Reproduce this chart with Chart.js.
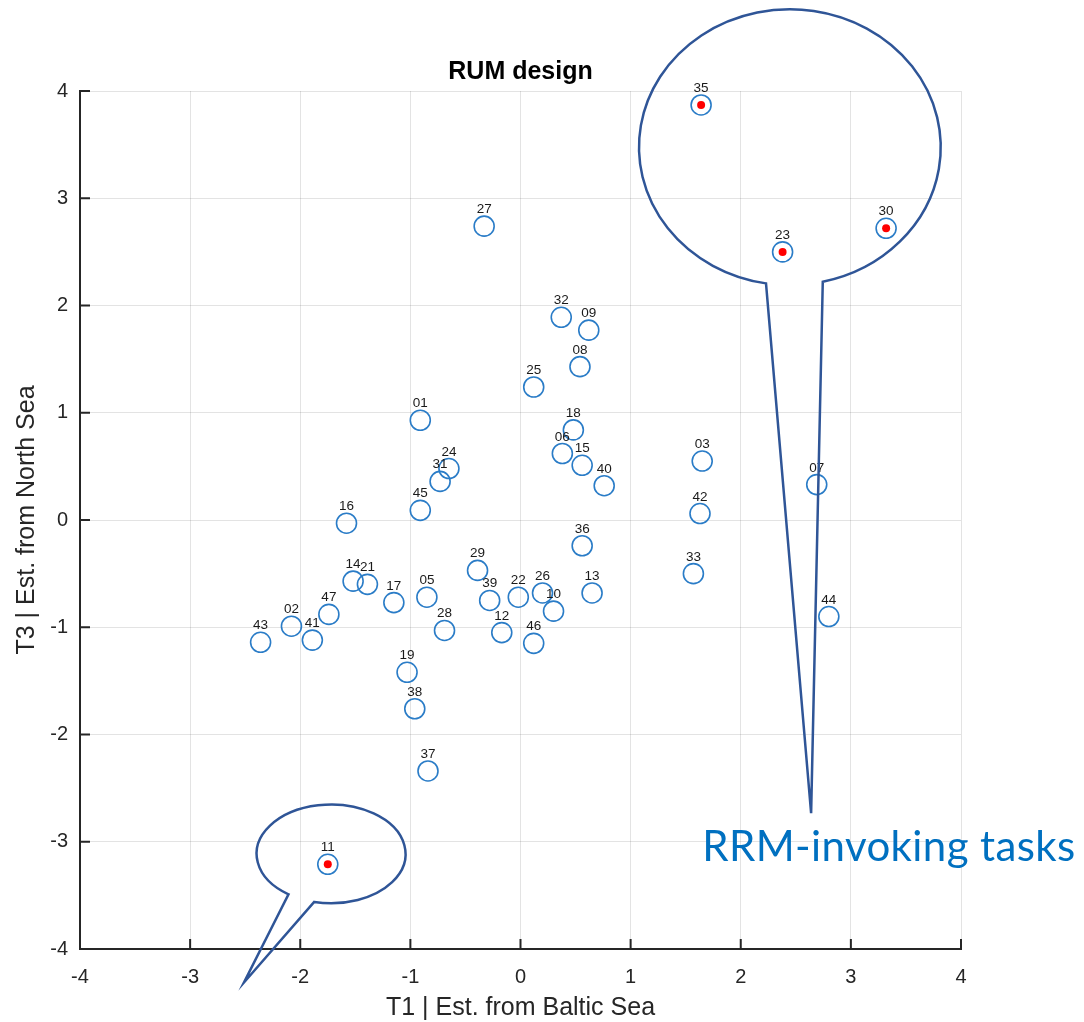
<!DOCTYPE html>
<html>
<head>
<meta charset="utf-8">
<script src="https://cdn.jsdelivr.net/npm/chart.js@4.4.1/dist/chart.umd.min.js"></script>
<style>
  html, body { margin: 0; padding: 0; background: #ffffff; }
  #wrap { width: 1084px; height: 1022px; }
</style>
</head>
<body>
<div id="wrap"><canvas id="c" width="1084" height="1022"></canvas></div>
<script>
// ---- data ----
const taskIds = ['01','02','03','05','06','07','08','09','10','11','12','13','14','15','16','17','18','19','21','22','23','24','25','26','27','28','29','30','31','32','33','35','36','37','38','39','40','41','42','43','44','45','46','47'];
const t1Values = [-0.91,-2.08,1.65,-0.85,0.38,2.69,0.54,0.62,0.30,-1.75,-0.17,0.65,-1.52,0.56,-1.58,-1.15,0.48,-1.03,-1.39,-0.02,2.38,-0.65,0.12,0.20,-0.33,-0.69,-0.39,3.32,-0.73,0.37,1.57,1.64,0.56,-0.84,-0.96,-0.28,0.76,-1.89,1.63,-2.36,2.80,-0.91,0.12,-1.74];
const t3Values = [0.93,-0.99,0.55,-0.72,0.62,0.33,1.43,1.77,-0.85,-3.21,-1.05,-0.68,-0.57,0.51,-0.03,-0.77,0.84,-1.42,-0.60,-0.72,2.50,0.48,1.24,-0.68,2.74,-1.03,-0.47,2.72,0.36,1.89,-0.50,3.87,-0.24,-2.34,-1.76,-0.75,0.32,-1.12,0.06,-1.14,-0.90,0.09,-1.15,-0.88];
const rrmTasks = ['11','23','30','35'];
const axisTicks = [-4,-3,-2,-1,0,1,2,3,4];
const chartTitle = 'RUM design';
const xTitle = 'T1 | Est. from Baltic Sea';
const yTitle = 'T3 | Est. from North Sea';
const noteText = 'RRM-invoking tasks';

// callout annotations (in data units)
const callouts = [
  { cx: 2.446, cy: 3.476, rx: 1.370, ry: 1.286, aLeft: 99.1, aRight: 77.4, tipX: 2.639, tipY: -2.733 },
  { cx: -1.720, cy: -3.113, rx: 0.676, ry: 0.460, aLeft: 124.9, aRight: 103.1, tipX: -2.511, tipY: -4.312 }
];
const notePos = { x: 1.650, y: -3.183 };

const allPoints = taskIds.map((id, i) => ({ x: t1Values[i], y: t3Values[i], id }));
const rrmPoints = allPoints.filter(p => rrmTasks.includes(p.id));

const INK = '#262626';

const overlayPlugin = {
  id: 'overlay',
  afterDatasetsDraw(chart) {
    const ctx = chart.ctx;
    const xs = chart.scales.x, ys = chart.scales.y;
    const area = chart.chartArea;
    ctx.save();
    // point labels
    const meta = chart.getDatasetMeta(0);
    ctx.font = '13.5px "Liberation Sans", Arial, sans-serif';
    ctx.fillStyle = '#1a1a1a';
    ctx.textAlign = 'center';
    ctx.textBaseline = 'alphabetic';
    meta.data.forEach((el, i) => {
      ctx.fillText(allPoints[i].id, el.x, el.y - 13);
    });
    // inward tick marks
    ctx.strokeStyle = INK;
    ctx.lineWidth = 2;
    ctx.beginPath();
    axisTicks.forEach(v => {
      const px = xs.getPixelForValue(v);
      ctx.moveTo(px, area.bottom);
      ctx.lineTo(px, area.bottom - 10);
      const py = ys.getPixelForValue(v);
      ctx.moveTo(area.left, py);
      ctx.lineTo(area.left + 10, py);
    });
    ctx.stroke();
    ctx.restore();
  },
  afterDraw(chart) {
    const ctx = chart.ctx;
    const xs = chart.scales.x, ys = chart.scales.y;
    ctx.save();
    ctx.strokeStyle = '#2F5597';
    ctx.lineWidth = 2.5;
    ctx.lineJoin = 'miter';
    callouts.forEach(c => {
      const cx = xs.getPixelForValue(c.cx), cy = ys.getPixelForValue(c.cy);
      const rx = Math.abs(xs.getPixelForValue(c.cx + c.rx) - cx);
      const ry = Math.abs(ys.getPixelForValue(c.cy + c.ry) - cy);
      const a0 = c.aLeft * Math.PI / 180, a1 = c.aRight * Math.PI / 180;
      const tx = xs.getPixelForValue(c.tipX), ty = ys.getPixelForValue(c.tipY);
      ctx.beginPath();
      ctx.ellipse(cx, cy, rx, ry, 0, a0, a1, false);
      ctx.lineTo(tx, ty);
      ctx.closePath();
      ctx.stroke();
    });
    ctx.font = '42px Lato, "Open Sans", sans-serif';
    ctx.fillStyle = '#0070C0';
    ctx.textAlign = 'left';
    ctx.textBaseline = 'alphabetic';
    const nx = xs.getPixelForValue(notePos.x), ny = ys.getPixelForValue(notePos.y);
    const w = ctx.measureText(noteText).width;
    const target = 373;
    if (w < target && 'letterSpacing' in ctx) {
      ctx.letterSpacing = ((target - w) / (noteText.length - 1)).toFixed(2) + 'px';
    }
    ctx.fillText(noteText, nx, ny);
    ctx.restore();
  }
};

new Chart(document.getElementById('c'), {
  type: 'scatter',
  data: {
    datasets: [
      {
        data: allPoints,
        pointStyle: 'circle',
        pointRadius: 10,
        pointHoverRadius: 10,
        pointBorderWidth: 1.6,
        pointBorderColor: '#2a7cc7',
        pointBackgroundColor: 'rgba(0,0,0,0)',
        showLine: false
      },
      {
        data: rrmPoints,
        pointStyle: 'circle',
        pointRadius: 4,
        pointHoverRadius: 4,
        pointBorderWidth: 0,
        pointBackgroundColor: '#ff0000',
        pointBorderColor: '#ff0000',
        showLine: false
      }
    ]
  },
  options: {
    responsive: false,
    animation: false,
    devicePixelRatio: 1,
    events: [],
    layout: { padding: { left: 0, right: 123, top: 0, bottom: 0 } },
    plugins: {
      legend: { display: false },
      tooltip: { enabled: false },
      title: {
        display: true,
        text: chartTitle,
        fullSize: false,
        color: '#000000',
        font: { family: '"Liberation Sans", Arial, sans-serif', size: 25, weight: 'bold', lineHeight: 1.2 },
        padding: { top: 57.5, bottom: 3.5 }
      }
    },
    scales: {
      x: {
        type: 'linear',
        min: -4, max: 4,
        afterBuildTicks: s => { s.ticks = axisTicks.map(v => ({ value: v })); },
        afterFit: s => { s.height = 73; },
        grid: { color: 'rgba(0,0,0,0.11)', lineWidth: 1, drawTicks: false },
        border: { display: true, color: INK, width: 2 },
        ticks: { color: INK, padding: 16, font: { family: '"Liberation Sans", Arial, sans-serif', size: 20 } },
        title: {
          display: true, text: xTitle, color: INK,
          font: { family: '"Liberation Sans", Arial, sans-serif', size: 25, lineHeight: 1.1 },
          padding: { top: 0, bottom: 0 }
        }
      },
      y: {
        type: 'linear',
        min: -4, max: 4,
        afterBuildTicks: s => { s.ticks = axisTicks.map(v => ({ value: v })); },
        afterFit: s => { s.width = 80; },
        grid: { color: 'rgba(0,0,0,0.11)', lineWidth: 1, drawTicks: false },
        border: { display: true, color: INK, width: 2 },
        ticks: { color: INK, padding: 12, font: { family: '"Liberation Sans", Arial, sans-serif', size: 20 } },
        title: {
          display: true, text: yTitle, color: INK,
          font: { family: '"Liberation Sans", Arial, sans-serif', size: 25, lineHeight: 1.1 },
          padding: { top: 13, bottom: 0 }
        }
      }
    }
  },
  plugins: [overlayPlugin]
});
</script>
</body>
</html>
